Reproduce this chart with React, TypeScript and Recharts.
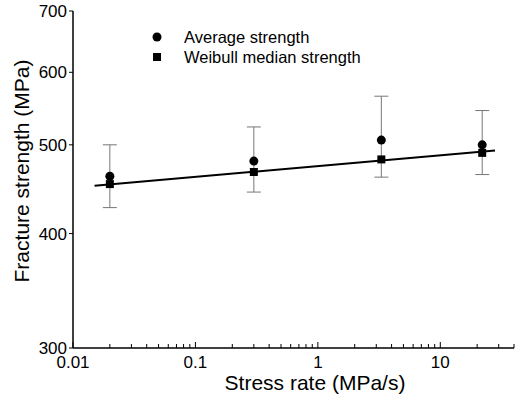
import { ScatterChart, Scatter, XAxis, YAxis, ErrorBar } from "recharts";

// stress rate (MPa/s)
const stressRates = [0.02, 0.3, 3.3, 22];
const averageStrength = [462, 480, 506, 500];
const weibullMedian = [453, 467, 482, 490];
const errLow = [427, 444, 461, 464];
const errHigh = [500, 523, 565, 545];

// fitted line end points
const fitX = [0.015, 28];
const fitY = [451, 493];

const yTicks = [300, 400, 500, 600, 700];
const decades = [0.01, 0.1, 1, 10];
const multipliers = [1, 2, 3, 4, 5, 6, 7, 8, 9];

const FONT = '"Liberation Sans", Arial, sans-serif';

const xTicks = decades
  .flatMap((d) => multipliers.map((m) => +(d * m).toPrecision(2)))
  .filter((v) => v <= 40);

const avgData = stressRates.map((x, i) => ({
  x,
  y: averageStrength[i],
  err: [averageStrength[i] - errLow[i], errHigh[i] - averageStrength[i]],
}));
const medianData = stressRates.map((x, i) => ({ x, y: weibullMedian[i] }));
const fitData = fitX.map((x, i) => ({ x, y: fitY[i] }));

const isDecade = (v: number) => decades.some((d) => Math.abs(d - v) < 1e-9);

const XTick = (props: any) => {
  const { x, y, payload } = props;
  const major = isDecade(payload.value);
  return (
    <g>
      <line x1={x} x2={x} y1={y} y2={y - (major ? 6 : 4)} stroke="#000" strokeWidth={1} />
      {major && (
        <text x={x} y={y + 20} textAnchor="middle" fontSize={17} fontFamily={FONT} fill="#000">
          {payload.value}
        </text>
      )}
    </g>
  );
};

const Circle = (props: any) => <circle cx={props.cx} cy={props.cy} r={4.5} fill="#000" />;
const Square = (props: any) => (
  <rect x={props.cx - 4} y={props.cy - 4} width={8} height={8} fill="#000" />
);
const NoShape = () => <g />;

export default function App() {
  return (
    <div style={{ position: "absolute", left: 0, top: 0, width: 515, height: 397, background: "#fff" }}>
      <ScatterChart width={515} height={397} margin={{ top: 11, right: 1, bottom: 0, left: 0 }}>
        <XAxis
          type="number"
          dataKey="x"
          scale="log"
          domain={[0.01, 40]}
          allowDataOverflow
          ticks={xTicks}
          interval={0}
          tickSize={0}
          tickMargin={0}
          tickLine={false}
          tick={<XTick />}
          height={49}
          axisLine={{ stroke: "#000", strokeWidth: 1.5 }}
          label={{
            content: () => (
              <text x={315} y={390} textAnchor="middle" fontSize={21} fontFamily={FONT} fill="#000">
                Stress rate (MPa/s)
              </text>
            ),
          }}
        />
        <YAxis
          type="number"
          dataKey="y"
          scale="log"
          domain={[300, 700]}
          allowDataOverflow
          ticks={yTicks}
          interval={0}
          width={73}
          tickSize={4}
          tickMargin={2}
          tick={{ fill: "#000", fontSize: 17, fontFamily: FONT }}
          tickLine={{ stroke: "#000" }}
          axisLine={{ stroke: "#000", strokeWidth: 1.5 }}
          label={{
            content: () => (
              <text
                x={21}
                y={171}
                transform="rotate(-90 21 171)"
                textAnchor="middle"
                dominantBaseline="central"
                fontSize={21}
                fontFamily={FONT}
                fill="#000"
              >
                Fracture strength (MPa)
              </text>
            ),
          }}
        />
        <Scatter
          name="fit"
          data={fitData}
          line={{ stroke: "#000", strokeWidth: 2 }}
          shape={<NoShape />}
          isAnimationActive={false}
        />
        <Scatter name="Average strength" data={avgData} shape={<Circle />} isAnimationActive={false}>
          <ErrorBar dataKey="err" direction="y" width={7} stroke="#777" strokeWidth={1} />
        </Scatter>
        <Scatter name="Weibull median strength" data={medianData} shape={<Square />} isAnimationActive={false} />
      </ScatterChart>
      <div
        style={{
          position: "absolute",
          left: 150,
          top: 27,
          fontFamily: FONT,
          fontSize: 16.5,
          color: "#000",
          lineHeight: "20px",
        }}
      >
        <div style={{ display: "flex", alignItems: "center" }}>
          <svg width={34} height={20}>
            <circle cx={7} cy={10} r={4.5} fill="#000" />
          </svg>
          Average strength
        </div>
        <div style={{ display: "flex", alignItems: "center" }}>
          <svg width={34} height={20}>
            <rect x={3} y={6} width={8} height={8} fill="#000" />
          </svg>
          Weibull median strength
        </div>
      </div>
    </div>
  );
}
